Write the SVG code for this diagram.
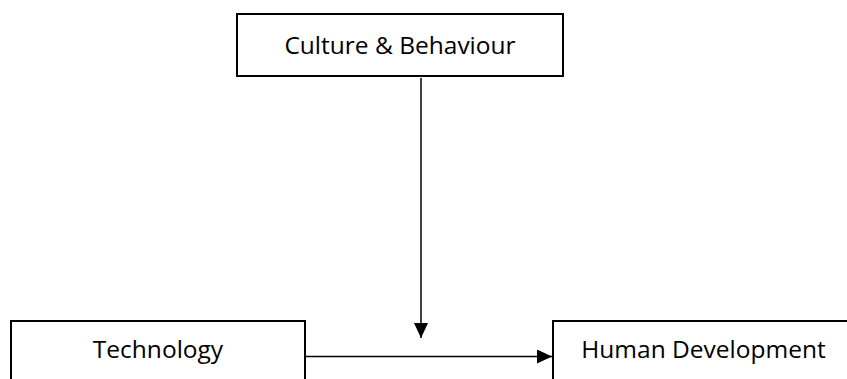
<svg xmlns="http://www.w3.org/2000/svg" width="847" height="379" viewBox="0 0 847 379">
<style>
.box{fill:#fff;stroke:#000;stroke-width:2}
.lbl{font-family:"Open Sans","Liberation Sans",sans-serif;font-size:24.5px;fill:#000;text-anchor:middle}
.con{stroke:#000;stroke-width:1.5;fill:none}
</style>
<defs>
<marker id="ah" viewBox="0 0 15 14" refX="15" refY="7" markerWidth="15" markerHeight="14" markerUnits="userSpaceOnUse" orient="auto">
<path d="M0,0 L15,7 L0,14 Z" fill="#000"/>
</marker>
</defs>
<rect width="847" height="379" fill="#fff"/>
<g id="connectors">
<line class="con" x1="421" y1="78" x2="421" y2="338" marker-end="url(#ah)"/>
<line class="con" x1="306" y1="356.5" x2="552" y2="356.5" marker-end="url(#ah)"/>
</g>
<g id="culture">
<rect class="box" x="237" y="14" width="326" height="62"/>
<text class="lbl" x="400" y="54">Culture &amp; Behaviour</text>
</g>
<g id="technology">
<rect class="box" x="11" y="321" width="294" height="70"/>
<text class="lbl" x="158" y="358">Technology</text>
</g>
<g id="human">
<rect class="box" x="553" y="321" width="310" height="70"/>
<text class="lbl" x="703.5" y="358">Human Development</text>
</g>
</svg>
